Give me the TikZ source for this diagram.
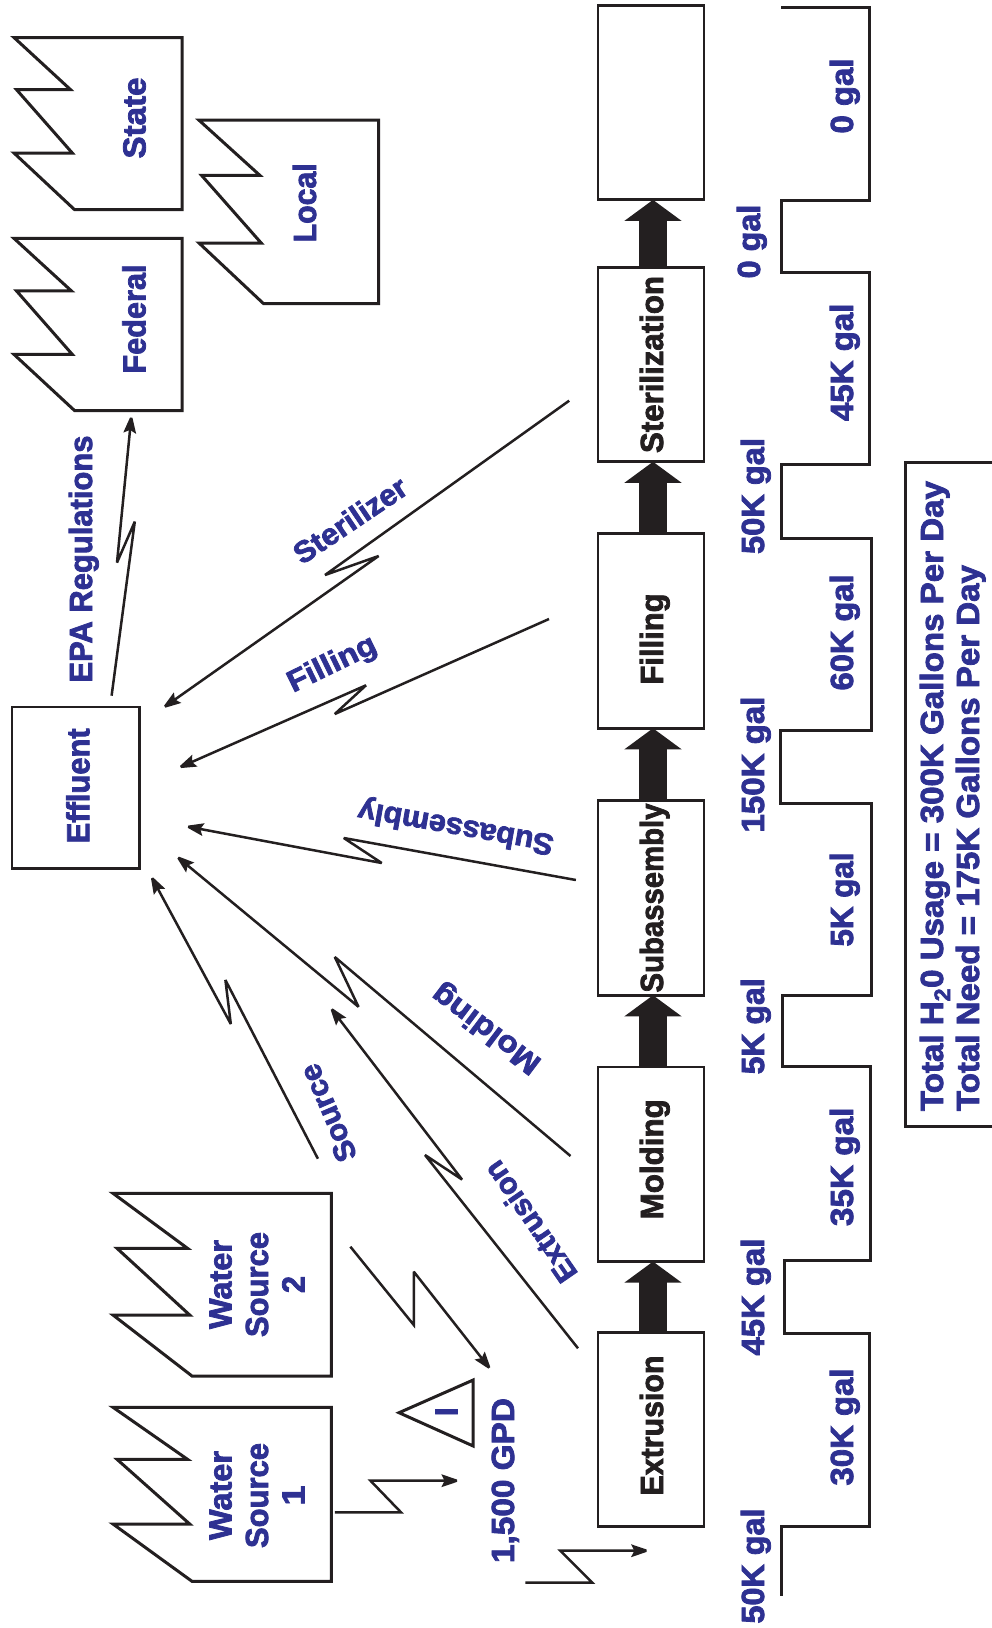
\documentclass[tikz,border=0pt]{standalone}
\usepackage{fontspec}
\setmainfont{Liberation Sans}[BoldFeatures={FakeBold=2.4}]
\usetikzlibrary{arrows.meta}
\definecolor{labelblue}{HTML}{2E3192}
\definecolor{ink}{HTML}{231F20}
\newcommand{\fit}[2]{\resizebox{#1pt}{\height}{#2}}
\tikzset{
  basefont/.style={inner sep=0pt,outer sep=0pt,font=\bfseries\fontsize{32pt}{36.5pt}\selectfont},
  bluetext/.style={basefont,text=labelblue,rotate=90,anchor=base},
  tilted/.style={basefont,text=labelblue,font=\bfseries\fontsize{30pt}{34pt}\selectfont,anchor=center},
  stacktext/.style={basefont,text=labelblue,rotate=90,align=center,anchor=center},
  procbox/.style={basefont,draw=ink,line width=2.8pt,rotate=90,text=ink,fill=white,minimum width=194.5pt,minimum height=106pt,text height=24pt,text depth=0pt,anchor=center},
  shapeline/.style={draw=ink,line width=3pt,line join=miter},
  zigzag/.style={draw=ink,line width=2.5pt,line join=miter,miter limit=3,shorten >=-3pt,-{Stealth[length=19pt,width=12.5pt,inset=3pt]}},
  bigarrow/.style={draw=ink,line width=28pt,-{Triangle[length=21pt,width=56pt]}},
  stepline/.style={draw=ink,line width=3pt,line join=miter},
}
\begin{document}
\begin{tikzpicture}[x=1pt,y=-1pt]
\useasboundingbox[fill=white] (0,0) rectangle (992,1628);

% jagged shapes
\draw[shapeline] (14,37.5) -- (182,37.5) -- (182,209.7) -- (74.6,209.7) -- (14,153) -- (72.3,153) -- (16.5,89.6) -- (70.5,89.6) -- cycle;
\draw[shapeline] (14,238.4) -- (182,238.4) -- (182,410.6) -- (74.6,410.6) -- (14,354.4) -- (72.3,354.4) -- (16.5,290.9) -- (71.4,290.9) -- cycle;
\draw[shapeline] (199,120.2) -- (378.6,120.2) -- (378.6,303.5) -- (263.4,303.5) -- (199,243) -- (261.2,243) -- (201.5,175.3) -- (259.8,175.3) -- cycle;
\draw[shapeline] (113,1193.3) -- (331.3,1193.3) -- (331.3,1376) -- (192,1376) -- (113,1315) -- (189.7,1315) -- (117,1248.3) -- (187.5,1248.3) -- cycle;
\draw[shapeline] (113,1407.3) -- (331.3,1407.3) -- (331.3,1581.3) -- (192,1581.3) -- (113,1524) -- (189.7,1524) -- (117,1459.3) -- (187.5,1459.3) -- cycle;
\draw[shapeline] (399,1412.7) -- (473.2,1380) -- (473.2,1446) -- cycle;

\node[bluetext] (state) at (145.5,118) {\fit{81}{State}};
\node[bluetext] (federal) at (145.5,319) {\fit{109}{Federal}};
\node[bluetext] (local) at (316,202.8) {\fit{79}{Local}};
\node[stacktext] (ws2) at (257,1284.5) {\fit{89}{Water}\\\fit{105}{Source}\\\fit{17}{2}};
\node[stacktext] (ws1) at (257,1495.5) {\fit{89}{Water}\\\fit{105}{Source}\\\fit{20}{1}};
\node[bluetext] (tier) at (457.6,1411.7) {I};
\node[bluetext] (gpd) at (514,1480.5) {\fit{165}{1,500 GPD}};
\node[bluetext] (epa) at (92,559) {\fit{247}{EPA Regulations}};

% process boxes
\node[procbox] (fin) at (651,102.6) {};
\node[procbox] (ster) at (651,364.5) {\fit{177}{Sterilization}};
\node[procbox] (fill) at (651,631) {\fit{91}{Filling}\kern16pt};
\node[procbox] (subas) at (651,898) {\fit{189}{Subassembly}};
\node[procbox] (mold) at (651,1164.3) {\kern10pt\fit{120}{Molding}};
\node[procbox] (extr) at (651,1429.5) {\kern8pt\fit{140}{Extrusion}};
\node[procbox,text=labelblue,minimum width=161.7pt,minimum height=127.7pt,text height=27pt] (eff) at (75.85,787.85) {\kern4pt\fit{115}{Effluent}};

\draw[bigarrow] ([xshift=2pt]extr.east) -- ([xshift=2pt]mold.west);
\draw[bigarrow] ([xshift=2pt]mold.east) -- ([xshift=2pt]subas.west);
\draw[bigarrow] ([xshift=2pt]subas.east) -- ([xshift=2pt]fill.west);
\draw[bigarrow] ([xshift=2pt]fill.east) -- ([xshift=2pt]ster.west);
\draw[bigarrow] ([xshift=2pt]ster.east) -- ([xshift=2pt]fin.west);

% zigzag connector ends
\coordinate (a1) at (334.8,1512.3); \coordinate (a2) at (401,1512.3); \coordinate (a3) at (370.5,1480.7); \coordinate (a4) at (457.6,1480.7);
\coordinate (b1) at (350.4,1246.7); \coordinate (b2) at (413.8,1325); \coordinate (b3) at (413.8,1271.7); \coordinate (b4) at (489.7,1368.3);
\coordinate (c1) at (525.4,1582.7); \coordinate (c2) at (592.4,1582.7); \coordinate (c3) at (560.3,1550.7); \coordinate (c4) at (647.3,1550.7);
\coordinate (d1) at (578,1348.3); \coordinate (d2) at (425,1155); \coordinate (d3) at (462,1179.5); \coordinate (d4) at (331.3,1008.7);
\coordinate (e1) at (317.9,1158.7); \coordinate (e2) at (225.4,980); \coordinate (e3) at (230.8,1024); \coordinate (e4) at (151.8,877.5);
\coordinate (f1) at (570.5,1156); \coordinate (f2) at (334.8,957); \coordinate (f3) at (358.5,1006.8); \coordinate (f4) at (177.7,857.2);
\coordinate (g1) at (575.9,880); \coordinate (g2) at (343.8,838); \coordinate (g3) at (381.7,863); \coordinate (g4) at (187.5,826.6);
\coordinate (h1) at (549,619); \coordinate (h2) at (334.8,714); \coordinate (h3) at (366,685.3); \coordinate (h4) at (180,767.2);
\coordinate (i1) at (569.2,400.7); \coordinate (i2) at (325,575); \coordinate (i3) at (378.6,556); \coordinate (i4) at (164.3,707);
\coordinate (j1) at (111.6,695.7); \coordinate (j2) at (134.8,521.6); \coordinate (j3) at (117,562.6); \coordinate (j4) at (131.3,417);

\draw[zigzag] (a1) -- (a2) -- (a3) -- (a4);
\draw[zigzag] (b1) -- (b2) -- (b3) -- (b4);
\draw[zigzag] (c1) -- (c2) -- (c3) -- (c4);
\draw[zigzag] (d1) -- (d2) -- (d3) -- (d4);
\draw[zigzag] (e1) -- (e2) -- (e3) -- (e4);
\draw[zigzag] (f1) -- (f2) -- (f3) -- (f4);
\draw[zigzag] (g1) -- (g2) -- (g3) -- (g4);
\draw[zigzag] (h1) -- (h2) -- (h3) -- (h4);
\draw[zigzag] (i1) -- (i2) -- (i3) -- (i4);
\draw[zigzag] (j1) -- (j2) -- (j3) -- (j4);

% connector labels
\node[tilted,rotate=34] (lster) at (350,520) {\fit{130}{Sterilizer}};
\node[tilted,rotate=26] (lfill) at (332.5,665) {\fit{95}{Filling}};
\node[tilted,rotate=170] (lsub) at (456,826) {\fit{198}{Subassembly}};
\node[tilted,rotate=143] (lmold) at (487,1028) {\fit{128}{Molding}};
\node[tilted,rotate=124.6] (lext) at (530,1222) {\fit{140}{Extrusion}};
\node[tilted,rotate=113] (lsrc) at (328,1113) {\fit{103}{Source}};

% step line
\draw[stepline] (781,7.3) -- (869,7.3) -- (869,200.5) -- (781,200.5) -- (781,272) -- (869,272) -- (869,464.8) -- (781.7,464.8) -- (781.7,538) -- (871,538) -- (871,730.5) -- (780.3,730.5) -- (780.3,803.7) -- (871.7,803.7) -- (871.7,995.7) -- (782,995.7) -- (782,1066.5) -- (870,1066.5) -- (870,1260) -- (784,1260) -- (784,1333.7) -- (869,1333.7) -- (869,1526) -- (781,1526) -- (781,1595.5);

% gallons
\node[bluetext] (q1) at (760,241.5) {\fit{73.8}{0 gal}};
\node[bluetext] (q2) at (764,496) {\fit{116}{50K gal}};
\node[bluetext] (q3) at (764,764.5) {\fit{136}{150K gal}};
\node[bluetext] (q4) at (764,1026.3) {\fit{96}{5K gal}};
\node[bluetext] (q5) at (764,1297) {\fit{117}{45K gal}};
\node[bluetext] (q6) at (764,1566) {\fit{115}{50K gal}};
\node[bluetext] (r1) at (853,96) {\fit{75}{0 gal}};
\node[bluetext] (r2) at (853,362.3) {\fit{117.5}{45K gal}};
\node[bluetext] (r3) at (853,632.4) {\fit{116}{60K gal}};
\node[bluetext] (r4) at (853,899.5) {\fit{94}{5K gal}};
\node[bluetext] (r5) at (853,1166.8) {\fit{118.5}{35K gal}};
\node[bluetext] (r6) at (853,1427) {\fit{117}{30K gal}};

% totals box
\draw[shapeline] (992,462.5) -- (905,462.5) -- (905,1126.5) -- (992,1126.5);
\node[bluetext] (t1) at (943,796) {\fit{630}{Total H\textsubscript{2}0 Usage = 300K Gallons Per Day}};
\node[bluetext] (t2) at (979,838) {\fit{546}{Total Need = 175K Gallons Per Day}};
\end{tikzpicture}
\end{document}
